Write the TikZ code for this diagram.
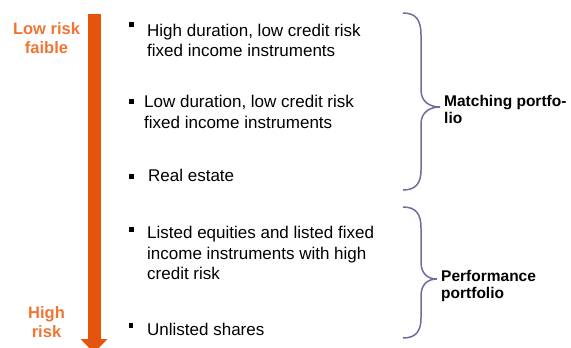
\documentclass[tikz,border=0pt]{standalone}
\usepackage{fontspec}
\setmainfont{Liberation Sans}
\usepackage{tikz}
\usetikzlibrary{arrows.meta}
\usetikzlibrary{positioning}
\definecolor{riskorange}{HTML}{E4540C}
\definecolor{labelorange}{HTML}{F07532}
\definecolor{bracegray}{HTML}{6E6E9C}

\begin{document}
\begin{tikzpicture}[x=1bp, y=-1bp]
	\tikzstyle{item}=[anchor=base west, inner sep=0pt, align=left, font=\fontsize{17bp}{20.5bp}\selectfont]
	\tikzstyle{bullet}=[rectangle, fill=black, inner sep=0pt, minimum width=4.5bp, minimum height=5bp]
	\tikzstyle{risk}=[anchor=base, inner sep=0pt, align=center, text=labelorange, font=\fontsize{16.5bp}{19bp}\selectfont\bfseries]
	\tikzstyle{group}=[anchor=base west, inner sep=0pt, align=left, font=\fontsize{15.5bp}{17bp}\selectfont\bfseries]
	\tikzstyle{brace}=[draw=bracegray, line width=1.5bp]
	\tikzstyle{connect}=[draw=riskorange, line width=13bp, -{Triangle[width=26bp, length=14bp]}]

	\useasboundingbox (0,0) rectangle (571,347);

	% risk scale (base of a node = its last line)
	\coordinate (arrowtop) at (94,14);
	\coordinate (arrowend) at (94,353);
	\path (arrowtop) edge [connect] (arrowend);

	\node[risk] (low) at (46.5,53.3) {Low risk\\faible};
	\node[risk] (high) at (46.5,337.3) {High\\risk};

	% asset classes
	\node[bullet] (b1) at (131.5,24) {};
	\node[bullet] (b2) at (131.5,101) {};
	\node[bullet] (b3) at (131.5,176) {};
	\node[bullet] (b4) at (131.5,229.5) {};
	\node[bullet] (b5) at (131,325) {};

	\node[item] (i1) at (147,56.7) {High duration, low credit risk\\fixed income instruments};
	\node[item] (i2) at (144,128.3) {Low duration, low credit risk\\fixed income instruments};
	\node[item] (i3) at (148,181.5) {Real estate};
	\node[item] (i4) at (147,279.5) {Listed equities and listed fixed\\income instruments with high\\credit risk};
	\node[item] (i5) at (147,335) {Unlisted shares};

	% portfolios
	\draw[brace] (403,13) .. controls (416,13) and (421,20) .. (421,35)
		-- (421,90) .. controls (421,102) and (430,107) .. (440,107)
		.. controls (430,107) and (421,112) .. (421,124)
		-- (421,170) .. controls (421,183) and (416,190) .. (403,190);
	\draw[brace] (403,207) .. controls (416,207) and (421,214) .. (421,228)
		-- (421,262) .. controls (421,274) and (428,279) .. (437,279)
		.. controls (428,279) and (421,284) .. (421,296)
		-- (421,318) .. controls (421,331) and (416,338) .. (403,338);

	\node[group] (match) at (444,123.3) {Matching portfo-\\lio};
	\node[group] (perf) at (441,298.3) {Performance\\portfolio};

\end{tikzpicture}
\end{document}
